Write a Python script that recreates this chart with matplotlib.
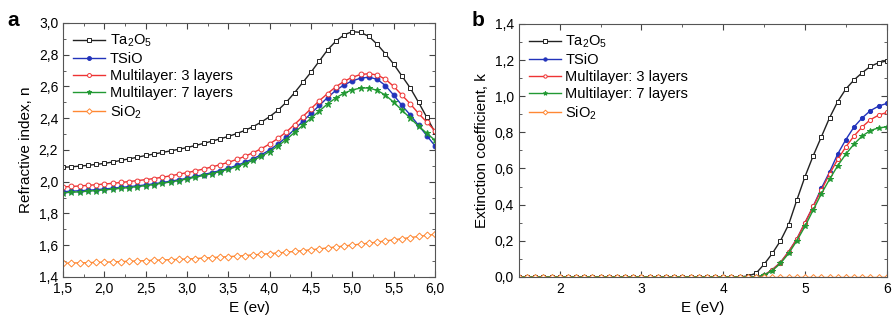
import numpy as np
import matplotlib
matplotlib.use("Agg")
import matplotlib.pyplot as plt
from matplotlib.ticker import MultipleLocator, FuncFormatter

plt.rcParams['font.family'] = ['Liberation Sans', 'DejaVu Sans']
plt.rcParams['mathtext.default'] = 'regular'

# photon energy grid (eV)
E = [1.5, 1.6, 1.7, 1.8, 1.9, 2.0, 2.1, 2.2, 2.3, 2.4, 2.5, 2.6, 2.7, 2.8, 2.9,
     3.0, 3.1, 3.2, 3.3, 3.4, 3.5, 3.6, 3.7, 3.8, 3.9, 4.0, 4.1, 4.2, 4.3, 4.4,
     4.5, 4.6, 4.7, 4.8, 4.9, 5.0, 5.1, 5.2, 5.3, 5.4, 5.5, 5.6, 5.7, 5.8, 5.9, 6.0]

# refractive index n
n_ta2o5 = [2.090, 2.094, 2.098, 2.103, 2.109, 2.115, 2.124, 2.134, 2.144, 2.154,
           2.165, 2.174, 2.184, 2.194, 2.204, 2.215, 2.228, 2.241, 2.255, 2.270,
           2.285, 2.303, 2.323, 2.347, 2.376, 2.410, 2.450, 2.500, 2.560, 2.625,
           2.690, 2.760, 2.830, 2.885, 2.925, 2.945, 2.940, 2.915, 2.865, 2.805,
           2.740, 2.665, 2.590, 2.500, 2.405, 2.310]
n_tsio = [1.937, 1.940, 1.943, 1.946, 1.950, 1.954, 1.959, 1.964, 1.969, 1.974,
          1.980, 1.987, 1.995, 2.003, 2.012, 2.022, 2.033, 2.045, 2.057, 2.070,
          2.085, 2.102, 2.122, 2.145, 2.170, 2.200, 2.237, 2.280, 2.330, 2.380,
          2.430, 2.480, 2.530, 2.575, 2.610, 2.635, 2.652, 2.658, 2.645, 2.605,
          2.545, 2.480, 2.420, 2.355, 2.290, 2.225]
n_ml3 = [1.967, 1.970, 1.973, 1.977, 1.981, 1.985, 1.990, 1.995, 2.001, 2.007,
         2.013, 2.020, 2.028, 2.037, 2.047, 2.057, 2.068, 2.080, 2.093, 2.107,
         2.122, 2.140, 2.160, 2.183, 2.208, 2.238, 2.273, 2.313, 2.360, 2.410,
         2.460, 2.510, 2.555, 2.598, 2.632, 2.658, 2.675, 2.680, 2.672, 2.645,
         2.600, 2.545, 2.490, 2.430, 2.375, 2.320]
n_ml7 = [1.930, 1.933, 1.936, 1.940, 1.944, 1.948, 1.953, 1.958, 1.963, 1.969,
         1.975, 1.982, 1.990, 1.998, 2.007, 2.017, 2.028, 2.039, 2.051, 2.064,
         2.078, 2.094, 2.113, 2.135, 2.160, 2.190, 2.225, 2.265, 2.310, 2.355,
         2.400, 2.445, 2.490, 2.528, 2.558, 2.578, 2.590, 2.590, 2.575, 2.545,
         2.500, 2.450, 2.400, 2.350, 2.305, 2.260]
n_sio2 = [1.487, 1.488, 1.489, 1.490, 1.492, 1.493, 1.495, 1.497, 1.499, 1.501,
          1.503, 1.505, 1.507, 1.509, 1.511, 1.513, 1.516, 1.519, 1.522, 1.525,
          1.528, 1.531, 1.535, 1.539, 1.543, 1.547, 1.551, 1.556, 1.561, 1.566,
          1.571, 1.577, 1.583, 1.589, 1.595, 1.601, 1.607, 1.613, 1.620, 1.627,
          1.634, 1.641, 1.648, 1.655, 1.662, 1.669]

# extinction coefficient k (zero below 4.3 eV)
k_zero = [0.0] * 28  # 1.5 .. 4.2 eV
k_ta2o5 = k_zero + [0.005, 0.020, 0.070, 0.130, 0.200, 0.290, 0.425, 0.555, 0.670,
                    0.775, 0.880, 0.970, 1.040, 1.090, 1.130, 1.165, 1.185, 1.195]
k_tsio = k_zero + [0.0, 0.0, 0.010, 0.040, 0.080, 0.140, 0.210, 0.300, 0.390,
                   0.490, 0.580, 0.680, 0.760, 0.830, 0.880, 0.920, 0.945, 0.960]
k_ml3 = k_zero + [0.0, 0.0, 0.010, 0.040, 0.080, 0.140, 0.210, 0.300, 0.390,
                  0.480, 0.570, 0.650, 0.720, 0.780, 0.830, 0.870, 0.895, 0.910]
k_ml7 = k_zero + [0.0, 0.0, 0.010, 0.035, 0.075, 0.130, 0.200, 0.280, 0.370,
                  0.460, 0.540, 0.615, 0.680, 0.735, 0.780, 0.810, 0.825, 0.830]
k_sio2 = k_zero + [0.0] * 18

labels = ['Ta$_2$O$_5$', 'TSiO', 'Multilayer: 3 layers', 'Multilayer: 7 layers', 'SiO$_2$']
colors = ['#222222', '#2233bb', '#ee3333', '#229933', '#ff8833']
markers = ['s', 'o', 'o', '*', 'D']
filled = [False, True, False, True, False]

comma = FuncFormatter(lambda v, p: ('%.1f' % v).replace('.', ','))
comma_int = FuncFormatter(lambda v, p: '%d' % round(v))

fig = plt.figure(figsize=(8.93, 3.27), dpi=100)
ax1 = fig.add_axes([0.0706, 0.153, 0.4166, 0.777])
ax2 = fig.add_axes([0.581, 0.153, 0.412, 0.774])


def draw(ax, series, size):
    for ys, lab, c, m, f in zip(series, labels, colors, markers, filled):
        ms = size if m != '*' else size + 1
        ax.plot(E, ys, color=c, lw=1, marker=m, ms=ms, mew=0.7,
                mfc=c if f else 'white', mec=c, label=lab)
    ax.legend(loc='upper left', frameon=False, fontsize=10.5, handlelength=2.2,
              handletextpad=0.3, labelspacing=0.2, borderaxespad=0.3,
              markerscale=0.8)
    for sp in ax.spines.values():
        sp.set_color('#555555')
    ax.tick_params(which='both', direction='in', top=True, right=True,
                   labelsize=10, color='#444444')
    ax.tick_params(which='major', length=4)
    ax.tick_params(which='minor', length=2)


draw(ax1, [n_ta2o5, n_tsio, n_ml3, n_ml7, n_sio2], 3.5)
ax1.set_xlim(1.5, 6.0)
ax1.set_ylim(1.4, 3.0)
ax1.xaxis.set_major_locator(MultipleLocator(0.5))
ax1.xaxis.set_minor_locator(MultipleLocator(0.25))
ax1.yaxis.set_major_locator(MultipleLocator(0.2))
ax1.yaxis.set_minor_locator(MultipleLocator(0.1))
ax1.xaxis.set_major_formatter(comma)
ax1.yaxis.set_major_formatter(comma)
ax1.set_xlabel('E (ev)', fontsize=11)
ax1.set_ylabel('Refractive index, n', fontsize=11)

draw(ax2, [k_ta2o5, k_tsio, k_ml3, k_ml7, k_sio2], 3)
ax2.set_xlim(1.5, 6.0)
ax2.set_ylim(0.0, 1.4)
ax2.xaxis.set_major_locator(MultipleLocator(1))
ax2.xaxis.set_minor_locator(MultipleLocator(0.5))
ax2.yaxis.set_major_locator(MultipleLocator(0.2))
ax2.yaxis.set_minor_locator(MultipleLocator(0.1))
ax2.xaxis.set_major_formatter(comma_int)
ax2.yaxis.set_major_formatter(comma)
ax2.set_xlabel('E (eV)', fontsize=11)
ax2.set_ylabel('Extinction coefficient, k', fontsize=11)

fig.text(0.008, 0.965, 'a', fontsize=15, fontweight='bold', va='top')
fig.text(0.528, 0.965, 'b', fontsize=15, fontweight='bold', va='top')

fig.savefig('out.png', dpi=100)
